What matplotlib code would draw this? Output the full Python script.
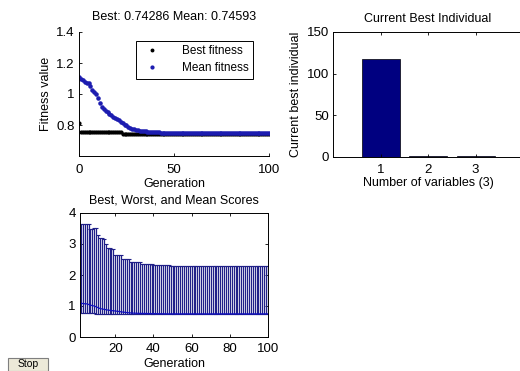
import numpy as np
import matplotlib
matplotlib.use("Agg")
import matplotlib.pyplot as plt
from matplotlib.patches import FancyBboxPatch

plt.rcParams['font.family'] = ['Liberation Sans', 'DejaVu Sans']
plt.rcParams['font.size'] = 9

# ---- data ----
generations = list(range(0, 101))
best_fitness = [0.81] + [0.755] * 22 + [0.743] * 78
mean_fitness = [
    1.112, 1.100, 1.090, 1.079, 1.072, 1.070, 1.050, 1.026, 1.012, 1.000,
    0.972, 0.945, 0.918, 0.905, 0.893, 0.883, 0.870, 0.862, 0.853, 0.845,
    0.839, 0.830, 0.822, 0.812, 0.803, 0.797, 0.788, 0.782, 0.777, 0.772,
    0.768, 0.766, 0.764, 0.762, 0.761, 0.760, 0.758, 0.757, 0.756, 0.755,
    0.754, 0.753, 0.752, 0.751, 0.750, 0.749, 0.748, 0.748, 0.747, 0.747,
    0.746, 0.746, 0.747, 0.746, 0.746, 0.746, 0.747, 0.746, 0.746, 0.746,
    0.746, 0.746, 0.746, 0.747, 0.746, 0.746, 0.746, 0.746, 0.746, 0.746,
    0.746, 0.746, 0.746, 0.746, 0.746, 0.747, 0.746, 0.746, 0.746, 0.746,
    0.746, 0.746, 0.746, 0.746, 0.746, 0.746, 0.746, 0.746, 0.746, 0.746,
    0.746, 0.746, 0.746, 0.746, 0.746, 0.746, 0.746, 0.746, 0.746, 0.746,
    0.74593,
]

variables = [1, 2, 3]
best_individual = [118, 1.2, 1.0]

range_gens = list(range(1, 101))
worst_scores = [
    3.65, 3.65, 3.65, 3.65, 3.65, 3.65, 3.49, 3.49, 3.51, 3.51,
    3.30, 3.19, 3.19, 3.15, 3.00, 2.87, 2.87, 2.84, 2.84, 2.63,
    2.63, 2.63, 2.63, 2.52, 2.52, 2.52, 2.52, 2.42, 2.42, 2.42,
    2.42, 2.42, 2.42, 2.36, 2.36, 2.36, 2.36, 2.36, 2.36, 2.31,
    2.31, 2.31, 2.31, 2.31, 2.31, 2.31, 2.31, 2.31, 2.29, 2.29,
    2.29, 2.29, 2.29, 2.29, 2.29, 2.29, 2.29, 2.29, 2.29, 2.29,
    2.29, 2.29, 2.29, 2.29, 2.29, 2.29, 2.29, 2.29, 2.29, 2.29,
    2.29, 2.29, 2.29, 2.29, 2.29, 2.29, 2.29, 2.29, 2.29, 2.29,
    2.29, 2.29, 2.29, 2.29, 2.29, 2.29, 2.30, 2.30, 2.30, 2.29,
    2.29, 2.29, 2.29, 2.29, 2.29, 2.29, 2.29, 2.29, 2.29, 2.29,
]
lowest_scores = [0.77] * 9 + [0.743] * 91

fig = plt.figure(figsize=(5.2, 3.71), dpi=100)
W, H = 520, 371

def add_ax(l, t, r, b):
    return fig.add_axes([l / W, 1 - b / H, (r - l) / W, (b - t) / H])

def style(ax, xpad=5.5):
    ax.tick_params(direction='in', length=2.5, width=0.6, pad=3, labelsize=9.5,
                   top=True, right=True)
    ax.tick_params(axis='x', pad=xpad)
    for s in ax.spines.values():
        s.set_linewidth(0.7)

# ---- top-left: fitness ----
ax1 = add_ax(79, 32, 269, 156)
ax1.plot(generations, best_fitness, '.', color='black', markersize=4, label='Best fitness')
ax1.plot(generations, mean_fitness, '.', color='#1c1cb0', markersize=4.5, label='Mean fitness')
ax1.set_xlim(0, 100)
ax1.set_ylim(0.6, 1.4)
ax1.set_xticks([0, 50, 100])
ax1.set_yticks([0.8, 1.0, 1.2, 1.4])
ax1.set_yticklabels(['0.8', '1', '1.2', '1.4'])
style(ax1, xpad=6)
ax1.tick_params(top=False, right=False)
ax1.spines['top'].set_visible(False)
ax1.spines['right'].set_visible(False)
ax1.set_xlabel('Generation', labelpad=1.5)
ax1.set_ylabel('Fitness value', labelpad=3)
ax1.set_title('Best: 0.74286 Mean: 0.74593', fontsize=9, pad=9)
leg = ax1.legend(loc='upper right', bbox_to_anchor=(0.945, 0.975), fancybox=False,
                 edgecolor='black', framealpha=1, fontsize=8.5, handletextpad=1.5,
                 borderpad=0.35, labelspacing=0.45, markerscale=0.9, handlelength=2.0)
leg.get_frame().set_linewidth(0.7)

# ---- top-right: best individual ----
ax2 = add_ax(333, 32, 523, 157)
ax2.bar(variables, best_individual, width=0.8, color='#000080', edgecolor='black', linewidth=0.5)
ax2.set_xlim(0, 4)
ax2.set_ylim(0, 150)
ax2.set_xticks(variables)
ax2.set_yticks([0, 50, 100, 150])
style(ax2, xpad=5)
ax2.set_xlabel('Number of variables (3)', labelpad=1)
ax2.set_ylabel('Current best individual', labelpad=3)
ax2.set_title('Current Best Individual', fontsize=9, pad=7)

# ---- bottom: range ----
ax3 = add_ax(80, 213, 268, 337)
gm = np.array(mean_fitness[1:])
lo = gm - np.array(lowest_scores)
hi = np.array(worst_scores) - gm
ax3.errorbar(range_gens, gm, yerr=[lo, hi], color='#1010c0', ecolor='#202088',
             elinewidth=0.9, capsize=1.6, capthick=0.8, linewidth=0.9)
ax3.set_xlim(1.5, 100)
ax3.set_ylim(0, 4)
ax3.set_xticks([20, 40, 60, 80, 100])
ax3.set_yticks([0, 1, 2, 3, 4])
style(ax3, xpad=4)
ax3.set_xlabel('Generation', labelpad=2.5)
ax3.set_title('Best, Worst, and Mean Scores', fontsize=9, pad=7)

# ---- Stop button ----
btn = FancyBboxPatch((8 / W, 1 - 371 / H), 40 / W, 13 / H, boxstyle='square,pad=0',
                     transform=fig.transFigure, facecolor='#ece9d8', edgecolor='#7f7f7f',
                     linewidth=0.8)
fig.patches.append(btn)
fig.text(28 / W, 1 - 364 / H, 'Stop', ha='center', va='center', fontsize=7.5)

fig.savefig('out.png', dpi=100)
